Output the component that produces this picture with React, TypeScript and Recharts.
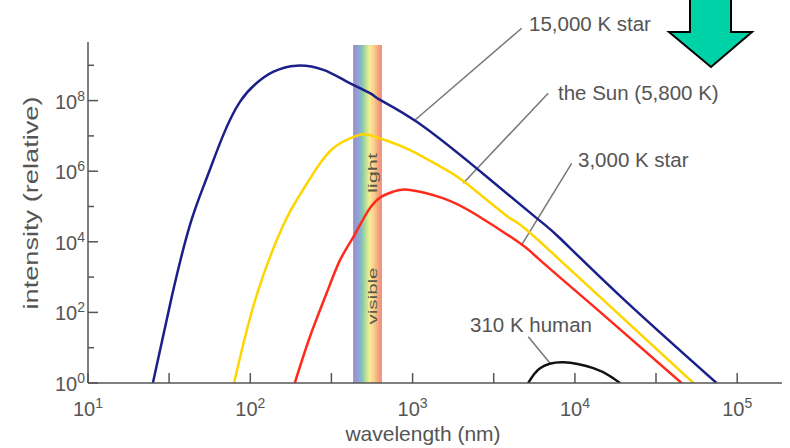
import React from "react";
import { LineChart, Line, XAxis, YAxis, ReferenceArea, ReferenceLine } from "recharts";

const W = 790;
const H = 448;
const MARGIN = { top: 42, right: 8, bottom: 0, left: 0 };
const Y_AXIS_W = 88;
const X_AXIS_H = 65;
const PLOT_LEFT = MARGIN.left + Y_AXIS_W;
const PLOT_BOTTOM = H - MARGIN.bottom - X_AXIS_H;

const AXIS = "#555";
const TEXT = "#555";
const FONT = "'Liberation Sans', Arial, sans-serif";

// wavelength (nm) / relative intensity
const star15kWave = [25.1, 32.8, 42.5, 53.8, 68.2, 86.5, 109, 139, 193, 282, 393, 546, 630, 1060, 2480, 5810, 8090, 20000, 74600];
const star15kInt = [1, 275, 30200, 631000, 1.07e7, 9.33e7, 3.09e8, 6.61e8, 9.77e8, 7.41e8, 3.47e8, 1.62e8, 1.05e8, 2.51e7, 1.2e6, 46800, 12600, 234, 1];

const sunWave = [79.4, 109, 160, 202, 256, 324, 411, 501, 630, 964, 1550, 2150, 3980, 6100, 53700];
const sunInt = [1, 290, 30200, 214000, 1.2e6, 4.47e6, 8.51e6, 1.12e7, 8.51e6, 3.98e6, 1.2e6, 447000, 46800, 10000, 1];

const star3kWave = [188, 233, 295, 357, 432, 527, 630, 759, 964, 1550, 2480, 4590, 6100, 15800, 45400];
const star3kInt = [1, 20.4, 347, 3020, 13800, 70800, 178000, 263000, 295000, 170000, 57500, 9120, 3020, 69, 1];

const humanWave = [5160, 6100, 8490, 13000, 16400, 19000];
const humanInt = [1, 2.63, 3.89, 2.63, 1.58, 1];

const X_DOMAIN = [10, 188800];
const Y_DOMAIN = [1, 4.57e9];
const X_MAJOR = [10, 100, 1000, 10000, 100000];
const X_MINOR = [31.6, 316, 3160, 31600];
const Y_MAJOR = [1, 100, 1e4, 1e6, 1e8];
const Y_MINOR = [10, 1000, 1e5, 1e7, 1e9];

// visible band (nm)
const VISIBLE = [430, 647];
const VISIBLE_TOP = 3.76e9;

// leader lines from label to curve, in data units
const leaders = [
  [{ x: 4700, y: 1.12e10 }, { x: 1035, y: 2.82e7 }],
  [{ x: 6850, y: 1.62e8 }, { x: 2050, y: 4.57e5 }],
  [{ x: 9550, y: 1.66e6 }, { x: 4700, y: 8130 }],
  [{ x: 5160, y: 20.4 }, { x: 7030, y: 3.61 }],
];

const pts = (w: number[], v: number[]) => w.map((x, k) => ({ w: x, i: v[k] }));

function Pow({ x, y, exp, anchor }: any) {
  return (
    <text x={x} y={y} textAnchor={anchor} fill={TEXT} fontSize={20} fontFamily={FONT}>
      <tspan>10</tspan>
      <tspan dy={-8} fontSize={14}>{exp}</tspan>
    </text>
  );
}

function XTick({ x, payload }: any) {
  const v = payload.value;
  const major = X_MAJOR.includes(v);
  return (
    <g>
      <line x1={x} x2={x} y1={PLOT_BOTTOM} y2={PLOT_BOTTOM - 10} stroke={AXIS} strokeWidth={1.5} />
      {major && <Pow x={x} y={PLOT_BOTTOM + 33} anchor="middle" exp={Math.round(Math.log10(v))} />}
    </g>
  );
}

function YTick({ y, payload }: any) {
  const v = payload.value;
  const major = Y_MAJOR.includes(v);
  return (
    <g>
      <line x1={PLOT_LEFT} x2={PLOT_LEFT + (major ? 10 : 6)} y1={y} y2={y} stroke={AXIS} strokeWidth={1.5} />
      {major && <Pow x={PLOT_LEFT - 3} y={y + 8} anchor="end" exp={Math.round(Math.log10(v))} />}
    </g>
  );
}

export default function App() {
  return (
    <div style={{ position: "absolute", left: 0, top: 0, width: W, height: H, background: "#fff" }}>
      <LineChart width={W} height={H} margin={MARGIN}>
        <defs>
          <linearGradient id="rainbow" x1="0" y1="0" x2="1" y2="0">
            <stop offset="0%" stopColor="#a08bc8" />
            <stop offset="18%" stopColor="#8ea3d8" />
            <stop offset="32%" stopColor="#86c6b4" />
            <stop offset="45%" stopColor="#bde092" />
            <stop offset="57%" stopColor="#f4ef92" />
            <stop offset="72%" stopColor="#f9cf8e" />
            <stop offset="86%" stopColor="#f6a67e" />
            <stop offset="100%" stopColor="#ef8a7a" />
          </linearGradient>
        </defs>
        <XAxis
          type="number"
          dataKey="w"
          scale="log"
          domain={X_DOMAIN}
          allowDataOverflow
          ticks={[...X_MAJOR, ...X_MINOR].sort((a, b) => a - b)}
          interval={0}
          height={X_AXIS_H}
          tickLine={false}
          axisLine={{ stroke: AXIS, strokeWidth: 1.5 }}
          tick={<XTick />}
        />
        <YAxis
          type="number"
          dataKey="i"
          scale="log"
          domain={Y_DOMAIN}
          allowDataOverflow
          ticks={[...Y_MAJOR, ...Y_MINOR].sort((a, b) => a - b)}
          interval={0}
          width={Y_AXIS_W}
          tickLine={false}
          axisLine={{ stroke: AXIS, strokeWidth: 1.5 }}
          tick={<YTick />}
        />
        <ReferenceArea x1={VISIBLE[0]} x2={VISIBLE[1]} y1={1} y2={VISIBLE_TOP} fill="url(#rainbow)" fillOpacity={1} stroke="none" />
        {leaders.map((seg, k) => (
          <ReferenceLine key={k} segment={seg} stroke="#777" strokeWidth={1.5} ifOverflow="visible" />
        ))}
        <Line data={pts(star15kWave, star15kInt)} dataKey="i" type="natural" stroke="#1b1f8a" strokeWidth={2.5} dot={false} isAnimationActive={false} />
        <Line data={pts(sunWave, sunInt)} dataKey="i" type="natural" stroke="#ffd500" strokeWidth={2.5} dot={false} isAnimationActive={false} />
        <Line data={pts(star3kWave, star3kInt)} dataKey="i" type="natural" stroke="#ff2a1c" strokeWidth={2.5} dot={false} isAnimationActive={false} />
        <Line data={pts(humanWave, humanInt)} dataKey="i" type="natural" stroke="#111" strokeWidth={2.5} dot={false} isAnimationActive={false} />
      </LineChart>
      <svg width={W} height={H} style={{ position: "absolute", left: 0, top: 0, pointerEvents: "none" }} fontFamily={FONT}>
        <text transform="translate(38,203) rotate(-90)" textAnchor="middle" fontSize={21} fill={TEXT} textLength={213} lengthAdjust="spacingAndGlyphs">
          intensity (relative)
        </text>
        <text x={423} y={441} textAnchor="middle" fontSize={21} fill={TEXT}>wavelength (nm)</text>
        <text x={529} y={31} fontSize={20.5} fill={TEXT}>15,000 K star</text>
        <text x={558} y={100} fontSize={20.5} fill={TEXT}>the Sun (5,800 K)</text>
        <text x={578} y={167} fontSize={20.5} fill={TEXT}>3,000 K star</text>
        <text x={470} y={332} fontSize={20.5} fill={TEXT}>310 K human</text>
        <text transform="translate(377,173) rotate(-90)" textAnchor="middle" fontSize={13} fill="#5a5a4a" textLength={40} lengthAdjust="spacingAndGlyphs">light</text>
        <text transform="translate(377,296) rotate(-90)" textAnchor="middle" fontSize={13} fill="#5a5a4a" textLength={57} lengthAdjust="spacingAndGlyphs">visible</text>
        <polygon points="690,-2 731,-2 731,32 752,32 711,67 669,32 690,32" fill="#00d2a8" stroke="#000" strokeWidth={2} />
      </svg>
    </div>
  );
}
